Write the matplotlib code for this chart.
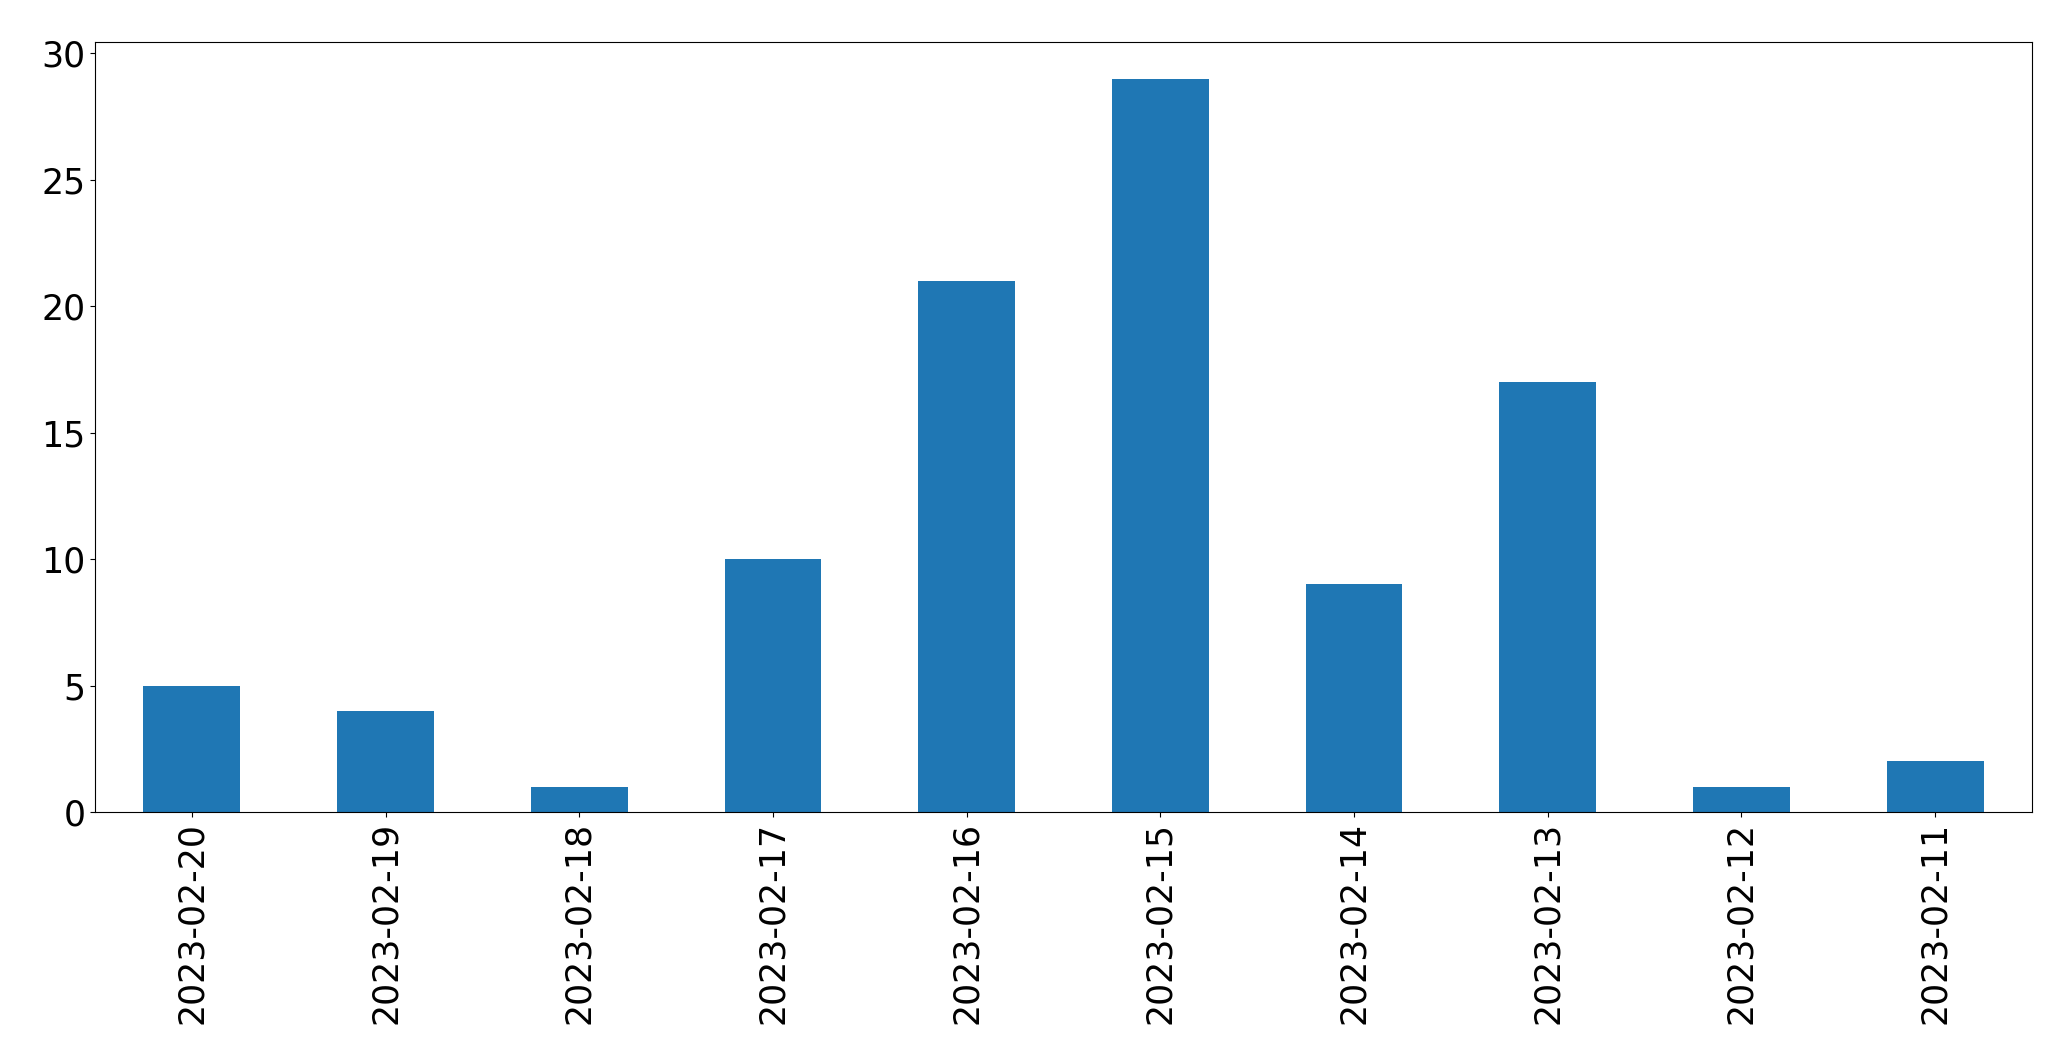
import matplotlib
matplotlib.use("Agg")
from matplotlib import pyplot as plt

dates = ["2023-02-20", "2023-02-19", "2023-02-18", "2023-02-17", "2023-02-16",
         "2023-02-15", "2023-02-14", "2023-02-13", "2023-02-12", "2023-02-11"]
counts = [5, 4, 1, 10, 21, 29, 9, 17, 1, 2]

fig = plt.figure(figsize=(20.71, 10.64), dpi=100)
ax = fig.add_axes([95 / 2071, 1 - 812 / 1064, (2032 - 95) / 2071, (812 - 42) / 1064])

x = list(range(len(dates)))
ax.bar(x, counts, width=0.5, color="#1f77b4")
ax.set_xlim(-0.5, len(dates) - 0.5)
ax.set_xticks(x)
ax.set_xticklabels(dates, rotation=90)
ax.tick_params(labelsize=25)

fig.savefig("out.png", dpi=100)
